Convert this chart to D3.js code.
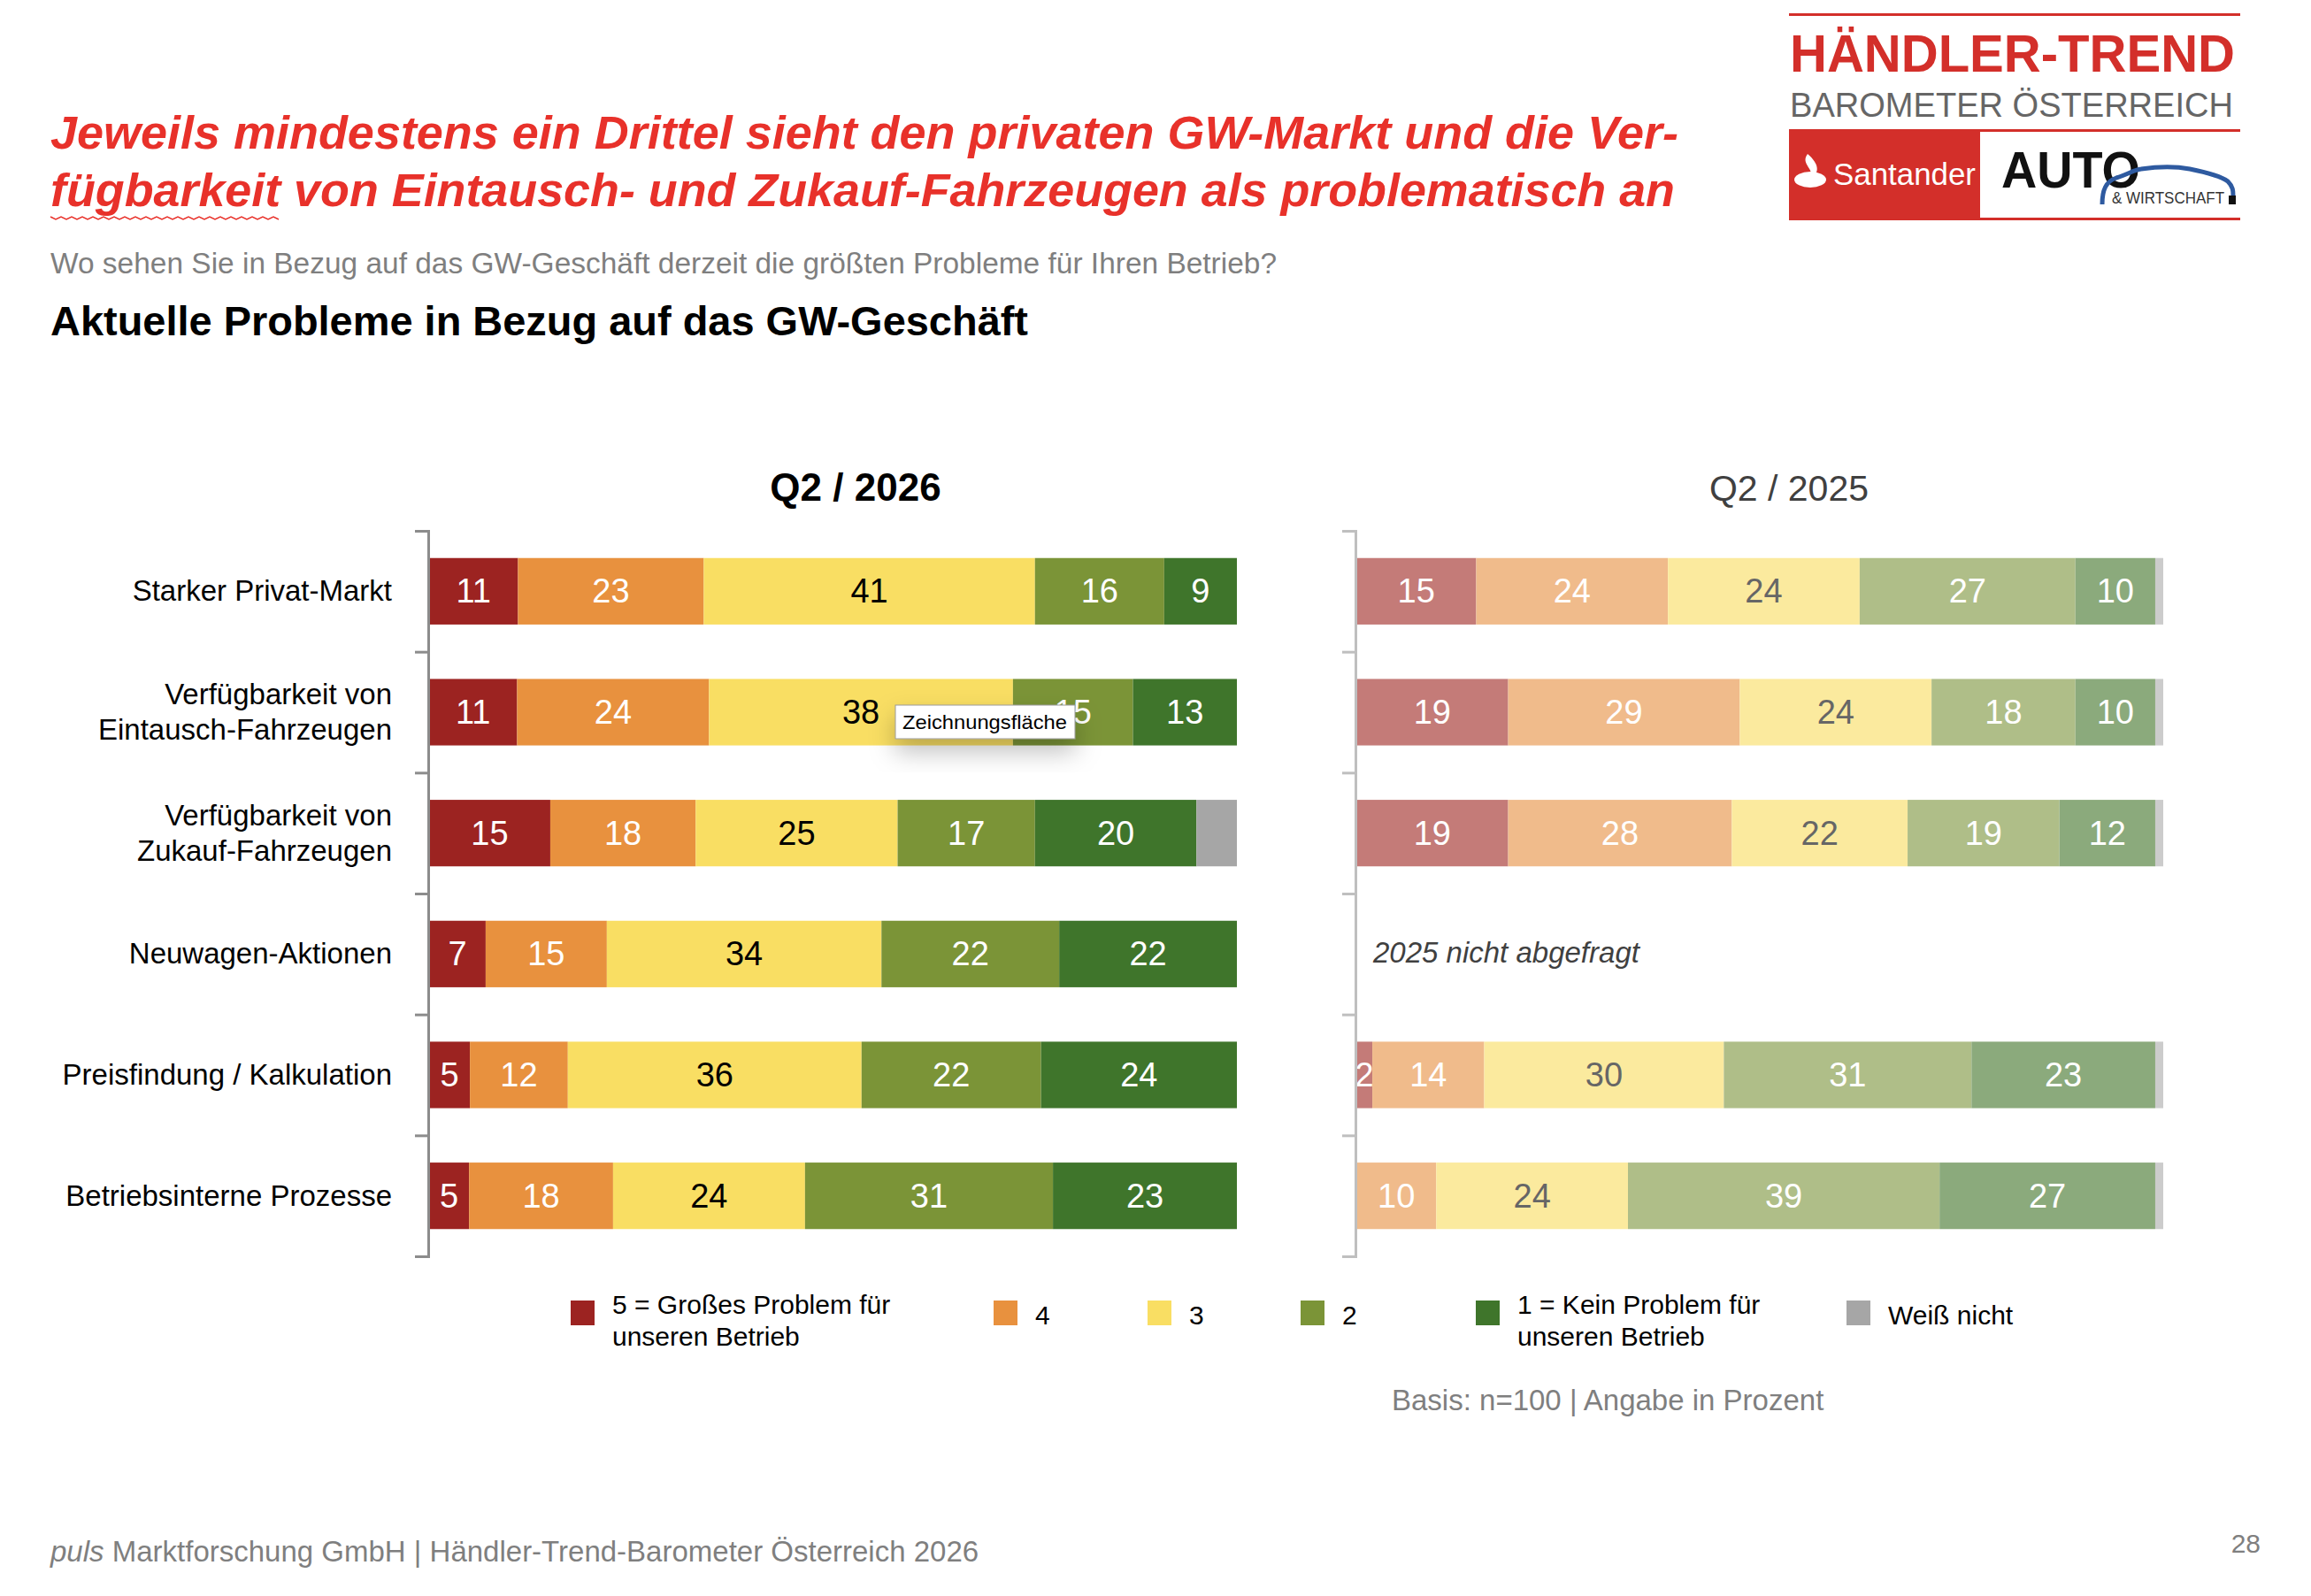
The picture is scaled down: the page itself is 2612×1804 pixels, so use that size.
<!DOCTYPE html>
<html>
<head>
<meta charset="utf-8">
<script src="https://d3js.org/d3.v7.min.js"></script>
<style>
  body { margin: 0; background: #fff; }
  text { font-family: "Liberation Sans", Arial, sans-serif; }
</style>
</head>
<body>
<script>
// categories and values (percent)
var categories = ["Starker Privat-Markt", "Verfügbarkeit von|Eintausch-Fahrzeugen", "Verfügbarkeit von|Zukauf-Fahrzeugen",
                  "Neuwagen-Aktionen", "Preisfindung / Kalkulation", "Betriebsinterne Prozesse"];
var keys = ["k5", "k4", "k3", "k2", "k1", "wn"];
var legendLabels = [["5 = Großes Problem für", "unseren Betrieb"], ["4"], ["3"], ["2"], ["1 = Kein Problem für", "unseren Betrieb"], ["Weiß nicht"]];

var v2026_5  = [11, 11, 15, 7, 5, 5];
var v2026_4  = [23, 24, 18, 15, 12, 18];
var v2026_3  = [41, 38, 25, 34, 36, 24];
var v2026_2  = [16, 15, 17, 22, 22, 31];
var v2026_1  = [9, 13, 20, 22, 24, 23];
var v2026_wn = [0, 0, 5, 0, 0, 0];

// 2025: Neuwagen-Aktionen not asked
var v2025_5  = [15, 19, 19, null, 2, 0];
var v2025_4  = [24, 29, 28, null, 14, 10];
var v2025_3  = [24, 24, 22, null, 30, 24];
var v2025_2  = [27, 18, 19, null, 31, 39];
var v2025_1  = [10, 10, 12, null, 23, 27];
var v2025_wn = [1, 1, 1, null, 1, 1];

var colors2026 = ["#9c2321", "#e8913e", "#f9de63", "#7b9437", "#3f752b", "#a6a6a6"];
var colors2025 = ["#c47b78", "#f0bb8b", "#fbea9e", "#afbe88", "#8baa7c", "#cccccc"];
var labelColors2026 = ["#fff", "#fff", "#000", "#fff", "#fff", "none"];
var labelColors2025 = ["#fff", "#fff", "#666", "#fff", "#fff", "none"];

const W = 2612, H = 1804;
const svg = d3.select("body").append("svg")
  .attr("width", W).attr("height", H);

function rowsOf(series) {
  return categories.map(function(c, i) {
    var r = {cat: c};
    keys.forEach(function(k, j) { r[k] = series[j][i]; });
    return r;
  });
}
var rows2026 = rowsOf([v2026_5, v2026_4, v2026_3, v2026_2, v2026_1, v2026_wn]);
var rows2025 = rowsOf([v2025_5, v2025_4, v2025_3, v2025_2, v2025_1, v2025_wn])
  .filter(function(r) { return r.k5 !== null; });

// shared y
var y = d3.scaleBand().domain(categories).range([600, 1420]).paddingInner(0.45).paddingOuter(0.225);
var yTicks = d3.scaleLinear().domain([0, categories.length]).range([600, 1420]);

var stack = d3.stack().keys(keys).offset(d3.stackOffsetExpand);

function drawPanel(rows, x, colors, labelColors, axisX, axisColor) {
  var g = svg.append("g");
  var layers = g.selectAll("g.layer")
    .data(stack(rows))
    .enter().append("g").attr("class", "layer")
    .attr("fill", function(d, i) { return colors[i]; });

  layers.selectAll("rect")
    .data(function(d) { return d; })
    .enter().append("rect")
    .attr("x", function(d) { return x(d[0]); })
    .attr("width", function(d) { return x(d[1]) - x(d[0]); })
    .attr("y", function(d) { return y(d.data.cat); })
    .attr("height", y.bandwidth());

  layers.each(function(layer, i) {
    d3.select(this).selectAll("text")
      .data(layer.filter(function(d) { return d.data[layer.key] > 0 && layer.key !== "wn"; }))
      .enter().append("text")
      .attr("x", function(d) { return (x(d[0]) + x(d[1])) / 2; })
      .attr("y", function(d) { return y(d.data.cat) + y.bandwidth() / 2 + 13; })
      .attr("text-anchor", "middle")
      .attr("font-size", 38)
      .attr("fill", labelColors[i])
      .text(function(d) { return d.data[layer.key]; });
  });

  var ax = g.append("g")
    .attr("transform", "translate(" + axisX + ",0)")
    .call(d3.axisLeft(yTicks).ticks(categories.length).tickSize(15).tickFormat(""));
  ax.selectAll("path, line").attr("stroke", axisColor).attr("stroke-width", 3);
}

var x2026 = d3.scaleLinear().domain([0, 1]).range([485, 1398]);
var x2025 = d3.scaleLinear().domain([0, 1]).range([1533, 2445]);
drawPanel(rows2026, x2026, colors2026, labelColors2026, 484, "#8c8c8c");
drawPanel(rows2025, x2025, colors2025, labelColors2025, 1532, "#bfbfbf");

// category labels
categories.forEach(function(c) {
  var lines = c.split("|");
  var cy = y(c) + y.bandwidth() / 2;
  lines.forEach(function(l, j) {
    svg.append("text")
      .attr("x", 443)
      .attr("y", cy + 11 + (j - (lines.length - 1) / 2) * 40)
      .attr("text-anchor", "end").attr("font-size", 33).attr("fill", "#000")
      .text(l);
  });
});

svg.append("text")
  .attr("x", 1552).attr("y", y("Neuwagen-Aktionen") + y.bandwidth() / 2 + 10)
  .attr("font-size", 33).attr("font-style", "italic").attr("fill", "#404040")
  .text("2025 nicht abgefragt");

// panel headers
svg.append("text").attr("x", 967).attr("y", 566)
  .attr("text-anchor", "middle").attr("font-size", 44).attr("font-weight", "bold").attr("fill", "#000")
  .text("Q2 / 2026");
svg.append("text").attr("x", 2022).attr("y", 566)
  .attr("text-anchor", "middle").attr("font-size", 41).attr("fill", "#404040")
  .text("Q2 / 2025");

// tooltip artefact from the slide
var defs = svg.append("defs");
var f = defs.append("filter").attr("id", "shadow").attr("x", "-30%").attr("y", "-50%").attr("width", "160%").attr("height", "250%");
f.append("feDropShadow").attr("dx", 0).attr("dy", 14).attr("stdDeviation", 14).attr("flood-color", "#000").attr("flood-opacity", 0.25);
var tip = svg.append("g");
tip.append("rect").attr("x", 1012).attr("y", 797).attr("width", 203).attr("height", 38)
  .attr("fill", "#fff").attr("stroke", "#999").attr("stroke-width", 1).attr("filter", "url(#shadow)");
tip.append("text").attr("x", 1020).attr("y", 824).attr("font-size", 22).attr("fill", "#000")
  .attr("textLength", 186).attr("lengthAdjust", "spacingAndGlyphs").text("Zeichnungsfläche");

// legend
var legendX = [645, 1123, 1297, 1470, 1668, 2087];
legendLabels.forEach(function(lab, i) {
  svg.append("rect").attr("x", legendX[i]).attr("y", 1470).attr("width", 27).attr("height", 28)
    .attr("fill", colors2026[i]);
  lab.forEach(function(l, j) {
    svg.append("text")
      .attr("x", legendX[i] + 47)
      .attr("y", lab.length > 1 ? 1485 + j * 36 : 1497)
      .attr("font-size", 30).attr("fill", "#000").text(l);
  });
});

svg.append("text").attr("x", 1573).attr("y", 1594).attr("font-size", 33).attr("fill", "#7f7f7f")
  .text("Basis: n=100 | Angabe in Prozent");

// titles
var title = svg.append("g").attr("fill", "#e8312a").attr("font-weight", "bold").attr("font-style", "italic").attr("font-size", 51);
title.append("text").attr("x", 57).attr("y", 168)
  .attr("textLength", 1840).attr("lengthAdjust", "spacingAndGlyphs")
  .text("Jeweils mindestens ein Drittel sieht den privaten GW-Markt und die Ver-");
title.append("text").attr("x", 57).attr("y", 233)
  .attr("textLength", 1836).attr("lengthAdjust", "spacingAndGlyphs")
  .text("fügbarkeit von Eintausch- und Zukauf-Fahrzeugen als problematisch an");
// spell-check squiggle under "fügbarkeit"
var zz = d3.range(57, 320, 6).map(function(xx, i) { return [xx, 245 + (i % 2 ? 3 : 0)]; });
svg.append("path").attr("d", d3.line()(zz)).attr("fill", "none").attr("stroke", "#e8312a").attr("stroke-width", 1.5);

svg.append("text").attr("x", 57).attr("y", 309).attr("font-size", 33).attr("fill", "#7f7f7f")
  .attr("textLength", 1386).attr("lengthAdjust", "spacingAndGlyphs")
  .text("Wo sehen Sie in Bezug auf das GW-Geschäft derzeit die größten Probleme für Ihren Betrieb?");
svg.append("text").attr("x", 57).attr("y", 379).attr("font-size", 46).attr("font-weight", "bold").attr("fill", "#000")
  .attr("textLength", 1105).attr("lengthAdjust", "spacingAndGlyphs")
  .text("Aktuelle Probleme in Bezug auf das GW-Geschäft");

// footer
var foot = svg.append("text").attr("x", 57).attr("y", 1765).attr("font-size", 33).attr("fill", "#7f7f7f");
foot.append("tspan").attr("font-style", "italic").text("puls");
foot.append("tspan").text(" Marktforschung GmbH | Händler-Trend-Barometer Österreich 2026");
svg.append("text").attr("x", 2555).attr("y", 1755).attr("text-anchor", "end").attr("font-size", 30).attr("fill", "#7f7f7f").text("28");

// logo
var logo = svg.append("g");
logo.append("rect").attr("x", 2022).attr("y", 15).attr("width", 510).attr("height", 3).attr("fill", "#d32f2a");
logo.append("text").attr("x", 2023).attr("y", 81).attr("font-size", 60).attr("font-weight", "bold").attr("fill", "#d32f2a")
  .attr("textLength", 503).attr("lengthAdjust", "spacingAndGlyphs").text("HÄNDLER-TREND");
logo.append("text").attr("x", 2023).attr("y", 132).attr("font-size", 39).attr("fill", "#666")
  .attr("textLength", 501).attr("lengthAdjust", "spacingAndGlyphs").text("BAROMETER ÖSTERREICH");
logo.append("rect").attr("x", 2022).attr("y", 146).attr("width", 510).attr("height", 3).attr("fill", "#d32f2a");
logo.append("rect").attr("x", 2022).attr("y", 149).attr("width", 216).attr("height", 98).attr("fill", "#d32f2a");
logo.append("rect").attr("x", 2022).attr("y", 246).attr("width", 510).attr("height", 3).attr("fill", "#d32f2a");
// santander flame
logo.append("ellipse").attr("cx", 2046).attr("cy", 203).attr("rx", 18).attr("ry", 9).attr("fill", "#fff");
logo.append("path").attr("d", "M2043,174 C2034,186 2053,191 2045,202 C2058,196 2056,185 2043,174 Z").attr("fill", "#fff");
logo.append("text").attr("x", 2072).attr("y", 209).attr("font-size", 35).attr("fill", "#fff")
  .attr("textLength", 161).attr("lengthAdjust", "spacingAndGlyphs").text("Santander");
logo.append("text").attr("x", 2262).attr("y", 212).attr("font-size", 57).attr("font-weight", "900").attr("fill", "#111")
  .attr("textLength", 157).attr("lengthAdjust", "spacingAndGlyphs").text("AUTO");
logo.append("path")
  .attr("d", "M2376,231 C2376,215 2380,205 2392,201 C2405,197 2412,192 2420,191 C2440,188 2460,188 2475,191 C2495,195 2510,199 2518,205 C2524,211 2524,216 2524,221")
  .attr("fill", "none").attr("stroke", "#2e5aa0").attr("stroke-width", 5);
logo.append("text").attr("x", 2387).attr("y", 230).attr("font-size", 18).attr("fill", "#333")
  .attr("textLength", 127).attr("lengthAdjust", "spacingAndGlyphs").text("& WIRTSCHAFT");
logo.append("rect").attr("x", 2519).attr("y", 221).attr("width", 8).attr("height", 10).attr("fill", "#111");
</script>
</body>
</html>
